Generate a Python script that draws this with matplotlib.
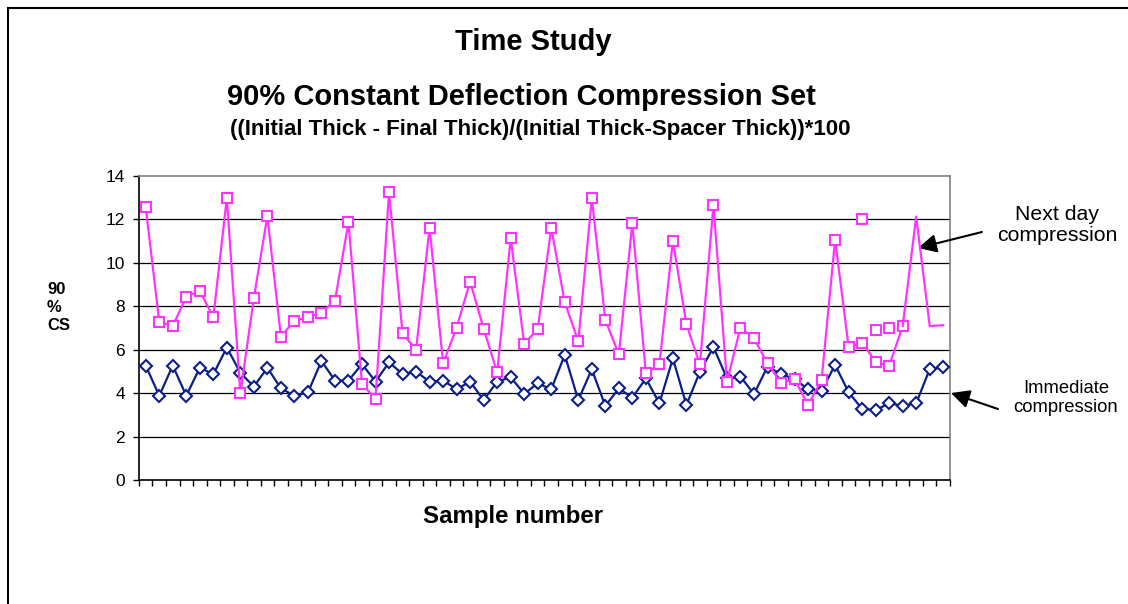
import numpy as np
import matplotlib
matplotlib.use("Agg")
import matplotlib.pyplot as plt
from matplotlib.lines import Line2D

plt.rcParams['font.family'] = ['Liberation Sans', 'DejaVu Sans']

# Next day compression (samples 1-57, with markers)
next_day = [12.56, 7.29, 7.09, 8.44, 8.72, 7.49, 12.98, 3.99, 8.38, 12.16,
            6.60, 7.34, 7.49, 7.70, 8.26, 11.87, 4.42, 3.73, 13.25, 6.76,
            5.99, 11.62, 5.37, 7.02, 9.14, 6.96, 4.96, 11.13, 6.26, 6.96,
            11.62, 8.18, 6.40, 12.98, 7.37, 5.79, 11.82, 4.91, 5.32, 11.01,
            7.17, 5.32, 12.65, 4.53, 7.02, 6.52, 5.37, 4.48, 4.64, 3.45,
            4.61, 11.06, 6.14, 6.32, 5.45, 5.25, 7.09]
# trailing values drawn without markers (samples 58-60)
next_day_tail = [12.13, 7.09, 7.13]
# stray markers (samples 54-56)
stray_idx = [53, 54, 55]
stray_vals = [12.02, 6.91, 6.99]

# Immediate compression (samples 1-60)
immediate = [5.27, 3.88, 5.27, 3.88, 5.17, 4.87, 6.10, 4.94, 4.30, 5.17,
             4.22, 3.88, 4.03, 5.48, 4.58, 4.58, 5.34, 4.53, 5.42, 4.88,
             4.99, 4.53, 4.58, 4.18, 4.53, 3.68, 4.53, 4.73, 3.97, 4.45,
             4.18, 5.76, 3.68, 5.10, 3.41, 4.22, 3.79, 4.68, 3.53, 5.60,
             3.45, 4.99, 6.12, 4.68, 4.76, 3.96, 5.22, 4.88, 4.65, 4.18,
             4.11, 5.30, 4.04, 3.27, 3.22, 3.53, 3.42, 3.53, 5.11, 5.19]

y_ticks = [0, 2, 4, 6, 8, 10, 12, 14]

pink = '#FF33FF'
navy = '#0A1E8C'

fig = plt.figure(figsize=(11.28, 6.04), dpi=100)
ax = fig.add_axes([0.1232, 0.2053, 0.719, 0.5033])

n = len(immediate)
x_all = np.arange(n)

# grid lines behind the data
for v in y_ticks[1:-1]:
    ax.axhline(v, color='black', lw=0.9, zorder=1)

ax.plot(x_all, immediate, color=navy, lw=1.6, marker='D', markersize=6.5,
        markerfacecolor='white', markeredgecolor=navy, markeredgewidth=1.5, zorder=3)

x_nd = np.arange(len(next_day))
ax.plot(x_nd, next_day, color=pink, lw=1.6, marker='s', markersize=7.5,
        markerfacecolor='white', markeredgecolor=pink, markeredgewidth=1.5, zorder=4)
x_tail = np.arange(len(next_day) - 1, len(next_day) + len(next_day_tail))
ax.plot(x_tail, [next_day[-1]] + next_day_tail, color=pink, lw=1.6, zorder=4)
ax.plot(stray_idx, stray_vals, linestyle='none', marker='s', markersize=7.5,
        markerfacecolor='white', markeredgecolor=pink, markeredgewidth=1.5, zorder=4)

ax.set_xlim(-0.5, n - 0.5)
ax.set_ylim(0, 14)
ax.set_yticks(y_ticks)
ax.set_yticklabels([str(v) for v in y_ticks], fontsize=12.5)
ax.set_xticks(np.arange(-0.5, n, 1))
ax.set_xticklabels([])
ax.tick_params(axis='x', direction='out', length=4, width=1)
ax.tick_params(axis='y', direction='out', length=4, width=1, pad=6)

ax.spines['left'].set_color('black')
ax.spines['bottom'].set_color('black')
ax.spines['top'].set_color('#808080')
ax.spines['right'].set_color('#808080')
for s in ax.spines.values():
    s.set_linewidth(1.2)

# titles
fig.text(533 / 1128, 1 - 42 / 604, 'Time Study', ha='center', va='center',
         fontsize=21, fontweight='bold')
fig.text(521 / 1128, 1 - 97 / 604, '90% Constant Deflection Compression Set',
         ha='center', va='center', fontsize=21, fontweight='bold')
fig.text(540 / 1128, 1 - 130 / 604,
         '((Initial Thick - Final Thick)/(Initial Thick-Spacer Thick))*100',
         ha='center', va='center', fontsize=16, fontweight='bold')
fig.text(513 / 1128, 1 - 517 / 604, 'Sample number', ha='center', va='center',
         fontsize=17.3, fontweight='bold')
fig.text(47 / 1128, 1 - 307 / 604, '90\n%\nCS', ha='left', va='center',
         fontsize=12, fontweight='bold', linespacing=1.25)

# annotations with arrows
fig.text(1057 / 1128, 1 - 225 / 604, 'Next day\ncompression', ha='center',
         va='center', fontsize=15.3, linespacing=1.15)
fig.text(1066 / 1128, 1 - 398 / 604, 'Immediate\ncompression', ha='center',
         va='center', fontsize=13.3, linespacing=1.15)
ax.annotate('', xy=(918 / 1128, 1 - 248 / 604), xycoords='figure fraction',
            xytext=(982 / 1128, 1 - 232 / 604), textcoords='figure fraction',
            arrowprops=dict(arrowstyle='-|>', color='black', lw=1.5,
                            mutation_scale=28, shrinkA=0, shrinkB=0),
            annotation_clip=False)
ax.annotate('', xy=(951 / 1128, 1 - 393 / 604), xycoords='figure fraction',
            xytext=(998 / 1128, 1 - 409 / 604), textcoords='figure fraction',
            arrowprops=dict(arrowstyle='-|>', color='black', lw=1.5,
                            mutation_scale=28, shrinkA=0, shrinkB=0),
            annotation_clip=False)

# chart area border (top and left visible)
fig.add_artist(Line2D([7.5 / 1128, 1.0], [1 - 8 / 604, 1 - 8 / 604],
                      transform=fig.transFigure, color='black', lw=1.5))
fig.add_artist(Line2D([7.5 / 1128, 7.5 / 1128], [0.0, 1 - 8 / 604],
                      transform=fig.transFigure, color='black', lw=1.5))

fig.savefig('out.png', dpi=100)
